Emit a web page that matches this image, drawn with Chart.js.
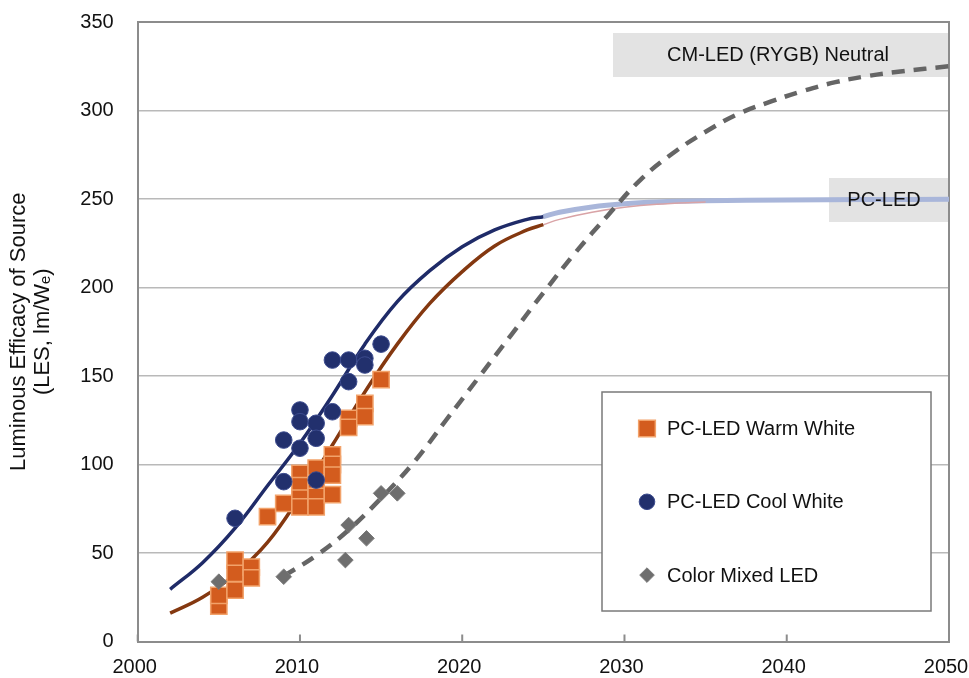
<!DOCTYPE html>
<html>
<head>
<meta charset="utf-8">
<script src="https://cdn.jsdelivr.net/npm/chart.js@4/dist/chart.umd.min.js"></script>
<style>
  html, body { margin: 0; padding: 0; background: #ffffff; }
  #wrap { width: 969px; height: 678px; position: relative; }
</style>
</head>
<body>
<div id="wrap"><canvas id="c" width="969" height="678"></canvas></div>
<script>
// ---------- data ----------
const xTickLabels = ['2000', '2010', '2020', '2030', '2040', '2050'];
const yTickLabels = ['0', '50', '100', '150', '200', '250', '300', '350'];

const seriesNames = ['PC-LED Warm White', 'PC-LED Cool White', 'Color Mixed LED'];

// measured points
const warmYears = [2005, 2005, 2006, 2006, 2006, 2007, 2007, 2008, 2009, 2010, 2010, 2010, 2010,
                   2011, 2011, 2011, 2011, 2012, 2012, 2012, 2012, 2013, 2013, 2014, 2014, 2015];
const warmValues = [20, 26, 46, 38.5, 29, 42, 36, 70.5, 78, 95, 88, 81, 76,
                    98, 89.5, 82, 76, 105.5, 100, 94, 83, 126, 121, 134.5, 127, 148];

const coolYears = [2006, 2009, 2009, 2010, 2010, 2010, 2011, 2011, 2011, 2012, 2012, 2013, 2013, 2014, 2014, 2015];
const coolValues = [69.6, 90.3, 113.8, 130.8, 124.2, 109.2, 123.3, 114.8, 91.2, 129.8, 159, 159, 146.8, 160, 156.2, 168];

const mixedYears = [2005, 2009, 2012.8, 2013, 2014.1, 2015, 2016];
const mixedValues = [33.8, 36.6, 46, 65.8, 58.3, 83.7, 83.7];

// fitted curves
const coolFitYears = [2002, 2004, 2006, 2008, 2010, 2012, 2014, 2016, 2018, 2020, 2022, 2024, 2025];
const coolFitValues = [29.5, 44.5, 64, 88, 112, 139, 168, 192, 209.5, 223, 232.5, 238.5, 240];

const warmFitYears = [2002, 2004, 2006, 2008, 2010, 2012, 2014, 2016, 2018, 2020, 2022, 2024, 2025];
const warmFitValues = [16, 25, 38, 56, 82, 111, 141, 168, 191, 209, 223.5, 232.5, 235.5];

const pcProjYears = [2025, 2026, 2028, 2030, 2032, 2035, 2040, 2045, 2050];
const pcProjValues = [240, 242.5, 245.5, 247.3, 248.3, 249, 249.5, 249.7, 249.8];

const warmProjYears = [2025, 2026, 2028, 2030, 2032, 2035];
const warmProjValues = [235.5, 238.5, 242.5, 245.3, 247, 248.3];

const cmYears = [2009, 2011, 2013, 2015, 2017, 2019, 2021, 2023, 2025, 2027, 2029,
                 2031, 2033, 2035, 2037, 2039, 2041, 2043, 2045, 2047, 2050];
const cmValues = [37, 48.5, 63, 81, 101, 125, 149, 173, 197, 220, 241,
                  261, 276, 288, 298, 305, 311, 316, 319.5, 322, 325];

const annotationLabels = ['CM-LED (RYGB) Neutral', 'PC-LED'];
const yTitle = ['Luminous Efficacy of Source', '(LES, lm/W\u2091)'];

// ---------- helpers ----------
const FONT = "'Liberation Sans', Arial, Helvetica, sans-serif";
const pts = (xs, ys) => xs.map((x, i) => ({ x: x, y: ys[i] }));

Chart.defaults.font.family = FONT;
Chart.defaults.font.size = 20;
Chart.defaults.color = '#111111';

function drawMarker(ctx, style, x, y, r) {
  ctx.beginPath();
  if (style === 'rect') {
    const s = Math.SQRT1_2 * r;
    ctx.rect(x - s, y - s, 2 * s, 2 * s);
  } else if (style === 'rectRot') {
    ctx.moveTo(x - r, y); ctx.lineTo(x, y - r); ctx.lineTo(x + r, y); ctx.lineTo(x, y + r); ctx.closePath();
  } else {
    ctx.arc(x, y, r, 0, Math.PI * 2);
  }
  ctx.fill();
  ctx.stroke();
}

const framePlugin = {
  id: 'frame',
  beforeDatasetsDraw(chart) {
    const { ctx, chartArea: a } = chart;
    ctx.save();
    // grey annotation boxes
    ctx.fillStyle = '#e3e3e3';
    ctx.fillRect(613, 33, a.right - 613, 44);
    ctx.fillRect(829, 178, a.right - 829, 44);
    // top and right border
    ctx.strokeStyle = '#8c8c8c';
    ctx.lineWidth = 2;
    ctx.beginPath();
    ctx.moveTo(a.left, a.top); ctx.lineTo(a.right, a.top); ctx.lineTo(a.right, a.bottom);
    ctx.stroke();
    // inward tick marks on x axis
    const xs = chart.scales.x;
    xTickLabels.forEach(t => {
      const px = xs.getPixelForValue(Number(t));
      ctx.beginPath();
      ctx.moveTo(px, a.bottom); ctx.lineTo(px, a.bottom - 7);
      ctx.stroke();
    });
    ctx.restore();
  },
  afterDatasetsDraw(chart) {
    const { ctx } = chart;
    ctx.save();
    // annotation texts
    ctx.fillStyle = '#111';
    ctx.font = '20px ' + FONT;
    ctx.textAlign = 'center';
    ctx.textBaseline = 'middle';
    ctx.fillText(annotationLabels[0], 778, 55);
    ctx.fillText(annotationLabels[1], 884, 200);

    // legend box
    const bx = 602, by = 392, bw = 329, bh = 219;
    ctx.fillStyle = '#ffffff';
    ctx.fillRect(bx, by, bw, bh);
    ctx.strokeStyle = '#7a7a7a';
    ctx.lineWidth = 1.5;
    ctx.strokeRect(bx, by, bw, bh);
    [0, 1, 2].forEach((di, i) => {
      const ds = chart.data.datasets[di];
      const cy = by + 36.5 + i * 73.3;
      ctx.fillStyle = ds.backgroundColor;
      ctx.strokeStyle = ds.borderColor;
      ctx.lineWidth = ds.borderWidth;
      drawMarker(ctx, ds.pointStyle, 647, cy, ds.legendRadius);
      ctx.fillStyle = '#111';
      ctx.textAlign = 'left';
      ctx.fillText(ds.label, 667, cy + 1);
    });
    ctx.restore();
  }
};

new Chart(document.getElementById('c'), {
  type: 'scatter',
  data: {
    datasets: [
      { label: seriesNames[0], data: pts(warmYears, warmValues), pointStyle: 'rect', pointRadius: 11.5,
        backgroundColor: '#d35c1e', borderColor: '#f2a26a', borderWidth: 1.5, legendRadius: 11.8, order: 2 },
      { label: seriesNames[1], data: pts(coolYears, coolValues), pointStyle: 'circle', pointRadius: 8.3,
        backgroundColor: '#22306d', borderColor: '#3c4b8e', borderWidth: 1, legendRadius: 7.8, order: 1 },
      { label: seriesNames[2], data: pts(mixedYears, mixedValues), pointStyle: 'rectRot', pointRadius: 7.8,
        backgroundColor: '#6e6e6e', borderColor: '#7a7a7a', borderWidth: 1, legendRadius: 7.3, order: 0 },
      { label: 'cool fit', data: pts(coolFitYears, coolFitValues), showLine: true, pointRadius: 0,
        borderColor: '#1f2b68', borderWidth: 3.5, tension: 0.4, order: 4 },
      { label: 'warm fit', data: pts(warmFitYears, warmFitValues), showLine: true, pointRadius: 0,
        borderColor: '#843810', borderWidth: 3.5, tension: 0.4, order: 5 },
      { label: 'CM projection', data: pts(cmYears, cmValues), showLine: true, pointRadius: 0,
        borderColor: '#656565', borderWidth: 4.5, borderDash: [13, 9], tension: 0.4, order: 3 },
      { label: 'PC projection', data: pts(pcProjYears, pcProjValues), showLine: true, pointRadius: 0,
        borderColor: '#a9b6da', borderWidth: 5, tension: 0.4, order: 7 },
      { label: 'warm projection', data: pts(warmProjYears, warmProjValues), showLine: true, pointRadius: 0,
        borderColor: '#d9a3a6', borderWidth: 1.5, tension: 0.4, order: 6 }
    ]
  },
  options: {
    responsive: false,
    animation: false,
    events: [],
    layout: { padding: { top: 22, right: 20, left: 0, bottom: 0 } },
    plugins: { legend: { display: false }, tooltip: { enabled: false } },
    scales: {
      x: {
        type: 'linear', min: 2000, max: 2050,
        ticks: { stepSize: 10, padding: 14, labelOffset: -3, color: '#111',
                 callback: (v) => xTickLabels.includes(String(v)) ? String(v) : '' },
        grid: { display: false, drawTicks: false },
        border: { display: true, color: '#8c8c8c', width: 2 },
        afterFit: (s) => { s.height = 36.5; s.paddingLeft = 0; s.paddingRight = 0; }
      },
      y: {
        min: 0, max: 350,
        ticks: { stepSize: 50, padding: 24, color: '#111',
                 callback: (v) => yTickLabels.includes(String(v)) ? String(v) : '' },
        grid: { color: '#b9b9b9', lineWidth: 1.5, drawTicks: false },
        border: { display: true, color: '#8c8c8c', width: 2 },
        title: { display: true, text: yTitle, color: '#111',
                 font: { size: 22, lineHeight: 1.1 }, padding: { top: 7, bottom: 0 } },
        afterFit: (s) => { s.width = 137.7; s.paddingTop = 0; s.paddingBottom = 0; }
      }
    }
  },
  plugins: [framePlugin]
});
</script>
</body>
</html>
